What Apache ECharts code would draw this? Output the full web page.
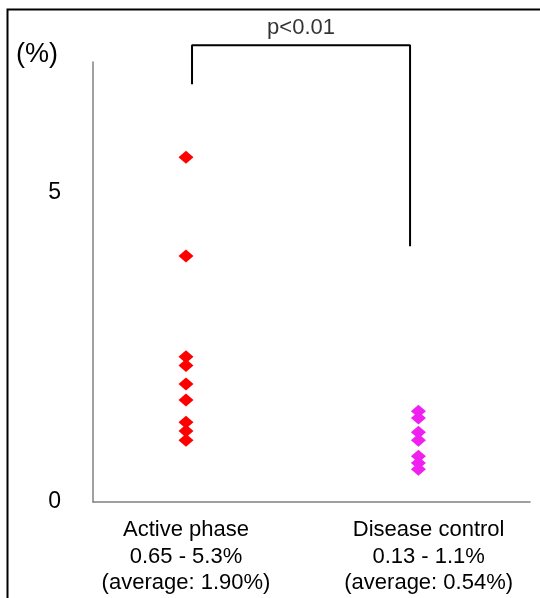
<!DOCTYPE html>
<html><head><meta charset="utf-8">
<script src="https://cdn.jsdelivr.net/npm/echarts@6/dist/echarts.min.js"></script>
<style>html,body{margin:0;padding:0;background:#fff}#c{width:540px;height:598px}</style>
</head><body><div id="c"></div>
<script>
var groupNames = ['Active phase\n0.65 - 5.3%\n(average: 1.90%)', 'Disease control\n0.13 - 1.1%\n(average: 0.54%)'];
var groupX = [1, 3.5];
var labelX = [1, 3.61];
var activeValues = [5.58, 3.98, 2.35, 2.21, 1.91, 1.65, 1.29, 1.15, 1.00];
var controlValues = [1.47, 1.36, 1.13, 1.00, 0.74, 0.63, 0.53];
var yTicks = [0, 5];
var bracket = [[1.065, 6.76], [1.065, 7.39], [3.41, 7.39], [3.41, 4.14]];
var pLabel = 'p<0.01';

var font = '"Liberation Sans", Arial, sans-serif';
var chart = echarts.init(document.getElementById('c'));
chart.setOption({
  animation: false,
  backgroundColor: '#fff',
  grid: {left: 93, right: 10, top: 62, bottom: 96, containLabel: false},
  xAxis: {
    type: 'value', min: 0, max: 4.7,
    splitLine: {show: false},
    axisLine: {show: true, lineStyle: {color: '#808080', width: 1.5}},
    axisTick: {show: false},
    axisLabel: {
      customValues: labelX,
      margin: 15,
      color: '#000', fontSize: 22, lineHeight: 26.5, fontFamily: font, align: 'center',
      formatter: function (v) { var i = labelX.indexOf(v); return i >= 0 ? groupNames[i] : ''; }
    }
  },
  yAxis: {
    type: 'value', min: 0, max: 7.12, interval: 5,
    splitLine: {show: false},
    axisLine: {show: true, lineStyle: {color: '#808080', width: 1.5}},
    axisTick: {show: false},
    axisLabel: {
      margin: 32, color: '#000', fontSize: 23, fontFamily: font,
      formatter: function (v) { return yTicks.indexOf(v) >= 0 ? String(v) : ''; }
    }
  },
  series: [
    {type: 'scatter', symbol: 'diamond', symbolSize: [15, 13],
     itemStyle: {color: '#ff0000', opacity: 1},
     data: activeValues.map(function (v) { return [groupX[0], v]; })},
    {type: 'scatter', symbol: 'diamond', symbolSize: [15, 13],
     itemStyle: {color: '#f020f0', opacity: 1},
     data: controlValues.map(function (v) { return [groupX[1], v]; })},
    {type: 'line', data: bracket, clip: false, symbol: 'none',
     lineStyle: {color: '#000', width: 2}, z: 5},
    {type: 'scatter', clip: false, symbolSize: 0,
     data: [[(bracket[1][0] + bracket[2][0]) / 2, bracket[1][1]]],
     label: {show: true, position: 'top', distance: 6, formatter: pLabel,
             color: '#000', fontSize: 22, fontFamily: font}}
  ],
  graphic: [
    {type: 'rect', shape: {x: 7.5, y: 9.5, width: 620, height: 700},
     style: {fill: 'none', stroke: '#000', lineWidth: 2}, silent: true},
    {type: 'text', x: 37, y: 55,
     style: {text: '(%)', fill: '#000', font: '27px ' + font, align: 'center', verticalAlign: 'middle'}}
  ]
});
</script></body></html>
